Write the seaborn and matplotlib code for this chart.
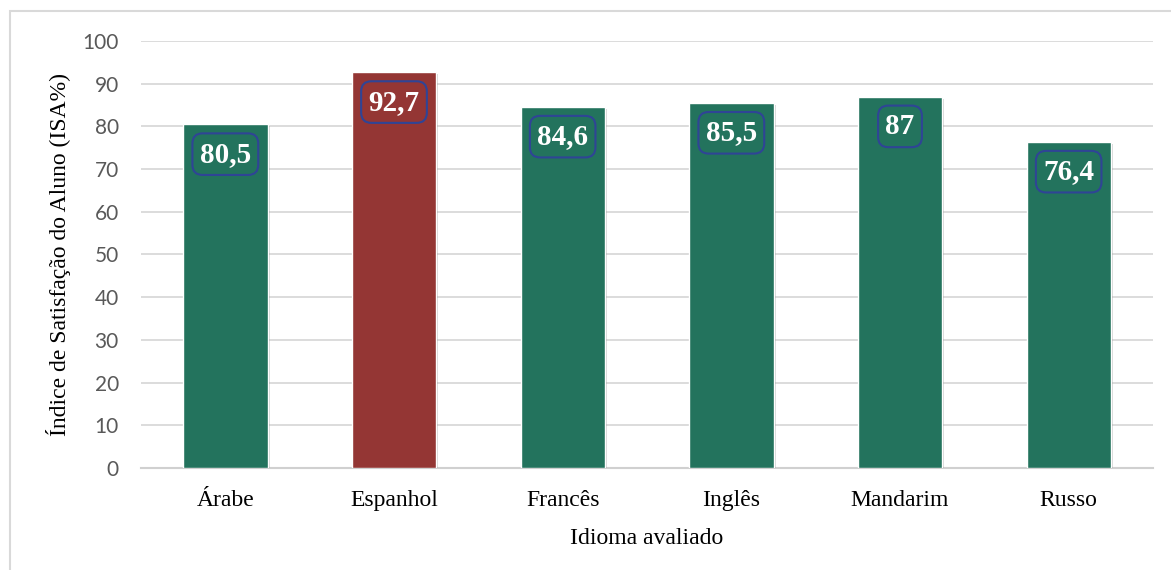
import matplotlib
matplotlib.use("Agg")
import matplotlib.pyplot as plt
import matplotlib.patheffects as pe
from matplotlib.patches import Rectangle
import seaborn as sns
import pandas as pd

idiomas = ["Árabe", "Espanhol", "Francês", "Inglês", "Mandarim", "Russo"]
isa = [80.5, 92.7, 84.6, 85.5, 87.0, 76.4]
rotulos = ["80,5", "92,7", "84,6", "85,5", "87", "76,4"]
cores = ["#23735D", "#943634", "#23735D", "#23735D", "#23735D", "#23735D"]

df = pd.DataFrame({"Idioma": idiomas, "ISA": isa})

sns.set_theme(style="white")
plt.rcParams["font.family"] = ["Liberation Serif", "DejaVu Serif"]

fig = plt.figure(figsize=(11.71, 5.70), dpi=100)
ax = fig.add_axes([141 / 1171, 102 / 570, 1012 / 1171, 427 / 570])

# outer chart frame
fig.patches.append(Rectangle((10 / 1171, -0.05), 1.2, (559 / 570) + 0.05,
                             transform=fig.transFigure, fill=False,
                             edgecolor="#d9d9d9", linewidth=1.5, zorder=0))

sns.barplot(data=df, x="Idioma", y="ISA", hue="Idioma",
            palette=dict(zip(idiomas, cores)), legend=False,
            width=0.5, saturation=1, ax=ax, zorder=3)

for bar in ax.patches:
    bar.set_path_effects([pe.SimplePatchShadow(offset=(1.5, -1.5), alpha=0.25,
                                               shadow_rgbFace="#555555"),
                          pe.Normal()])

for bar, txt in zip(ax.patches, rotulos):
    x = bar.get_x() + bar.get_width() / 2
    y = bar.get_height() - 7
    ax.text(x, y, txt, ha="center", va="center", color="white",
            fontsize=21, fontweight="bold", zorder=5,
            bbox=dict(boxstyle="round,pad=0.25,rounding_size=0.35",
                      facecolor="none", edgecolor="#2F4496", linewidth=1.5))

ax.set_ylim(0, 100)
ax.set_xlim(-0.5, 5.5)
ax.set_yticks(range(0, 101, 10))
ax.yaxis.grid(True, color="#d9d9d9", linewidth=1.3, zorder=0)
ax.set_axisbelow(True)
for s in ["top", "right", "left"]:
    ax.spines[s].set_visible(False)
ax.spines["bottom"].set_color("#d0d0d0")
ax.spines["bottom"].set_linewidth(1.5)

ax.tick_params(axis="y", length=0, pad=16, labelsize=15, labelcolor="#595959")
ax.tick_params(axis="x", length=0, pad=16, labelsize=17, labelcolor="black")
for lab in ax.get_yticklabels():
    lab.set_family("Lato")

ax.set_xlabel("Idioma avaliado", fontsize=17, labelpad=12, color="black")
ax.set_ylabel("Índice de Satisfação do Aluno (ISA%)", fontsize=17,
              labelpad=8, color="black")

fig.savefig("out.png", dpi=100)
